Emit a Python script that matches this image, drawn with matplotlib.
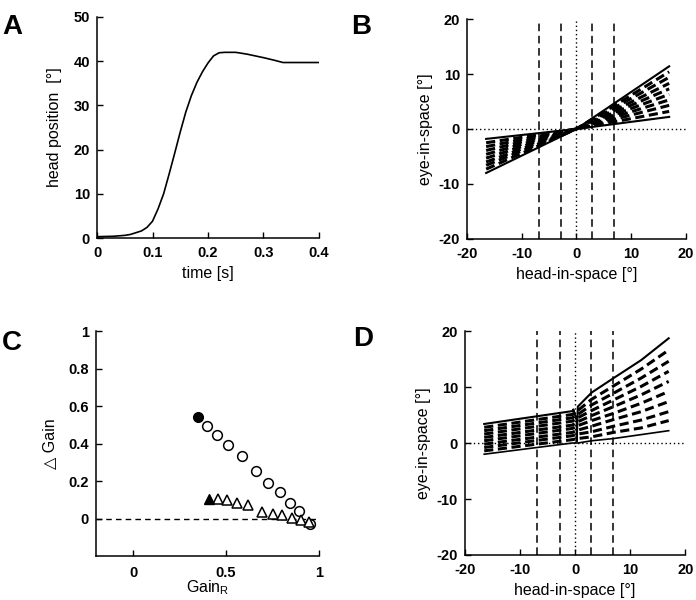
import matplotlib
matplotlib.use("Agg")
import matplotlib.pyplot as plt

plt.rcParams['font.family'] = ['Liberation Sans', 'DejaVu Sans']
plt.rcParams['axes.unicode_minus'] = False
plt.rcParams['font.size'] = 10

# ---- panel A: head position over time
t_s = [0, 0.03, 0.05, 0.06, 0.07, 0.08, 0.09, 0.1, 0.11, 0.12, 0.13, 0.14,
       0.15, 0.16, 0.17, 0.18, 0.19, 0.2, 0.21, 0.22, 0.23, 0.25, 0.27, 0.3,
       0.32, 0.335, 0.4]
head_pos = [0.3, 0.4, 0.6, 0.8, 1.2, 1.6, 2.4, 3.8, 6.6, 10.0, 14.5, 19.2,
            24.0, 28.5, 32.2, 35.2, 37.6, 39.6, 41.2, 41.9, 42.0, 42.0, 41.6,
            40.8, 40.2, 39.7, 39.7]

# ---- panel B: eye-in-space lines through the origin
b_x = [-16.5, 0, 17]
b_left = [-8.0, -7.3, -6.6, -6.0, -5.3, -4.6, -3.9, -3.2, -2.5, -1.8]
b_right = [11.4, 10.4, 9.4, 8.3, 7.3, 6.3, 5.3, 4.3, 3.2, 2.2]

# ---- panel C: delta gain vs gain R
circ_x = [0.396, 0.452, 0.511, 0.586, 0.661, 0.725, 0.789, 0.843, 0.896, 0.954]
circ_y = [0.496, 0.447, 0.394, 0.333, 0.254, 0.188, 0.141, 0.084, 0.039, -0.027]
circ_fill = (0.348, 0.544)
tri_x = [0.459, 0.507, 0.561, 0.62, 0.695, 0.754, 0.804, 0.857, 0.905, 0.95]
tri_y = [0.103, 0.098, 0.085, 0.07, 0.036, 0.024, 0.018, 0.004, -0.007, -0.017]
tri_fill = (0.41, 0.103)

# ---- panel D: eye-in-space, left and right segments
d_xl = [-16.5, -0.5]
d_xr = [0.5, 3, 7, 12, 17]
d_left = [[3.4, 5.7], [2.8, 5.1], [2.2, 4.5], [1.6, 3.9], [1.0, 3.2],
          [0.4, 2.6], [-0.2, 1.9], [-0.8, 1.3], [-1.4, 0.6], [-2.0, 0.0]]
d_right = [[6.5, 9.0, 11.6, 14.8, 18.7], [5.8, 7.8, 10.2, 13.2, 16.6],
           [5.1, 6.8, 8.9, 11.6, 14.6], [4.5, 5.8, 7.7, 10.1, 12.8],
           [3.8, 4.9, 6.5, 8.6, 11.0], [3.1, 4.0, 5.3, 7.1, 9.2],
           [2.3, 3.0, 4.2, 5.6, 7.4], [1.6, 2.0, 3.0, 4.1, 5.6],
           [0.8, 1.1, 1.9, 2.7, 4.0], [0.0, 0.4, 0.8, 1.5, 2.2]]

vlines_dash = [-6.9, -2.8, 2.9, 6.9]

fig = plt.figure(figsize=(6.96, 6.0), dpi=100)
axA = fig.add_axes([0.1394, 0.6033, 0.3189, 0.3684])
axB = fig.add_axes([0.671, 0.6017, 0.314, 0.3666])
axC = fig.add_axes([0.138, 0.0733, 0.320, 0.375])
axD = fig.add_axes([0.668, 0.075, 0.3165, 0.3733])


def style(ax):
    for s in ['top', 'right']:
        ax.spines[s].set_visible(False)
    for s in ['left', 'bottom']:
        ax.spines[s].set_linewidth(1.1)
    ax.tick_params(direction='in', length=4, width=1.0, labelsize=10.5)
    ax.tick_params(axis='y', pad=5)
    ax.tick_params(axis='x', pad=6)
    for lab in ax.get_xticklabels() + ax.get_yticklabels():
        lab.set_fontweight('bold')


# A
axA.plot(t_s, head_pos, color='black', lw=1.2)
axA.set_xlim(0, 0.4)
axA.set_ylim(0, 50)
axA.set_xticks([0, 0.1, 0.2, 0.3, 0.4])
axA.set_xticklabels(['0', '0.1', '0.2', '0.3', '0.4'])
axA.set_yticks([0, 10, 20, 30, 40, 50])
axA.set_xlabel('time [s]', fontsize=11.5)
axA.set_ylabel('head position  [°]', fontsize=11.5, labelpad=8)
style(axA)


def eye_axes(ax):
    ax.set_xlim(-20, 20)
    ax.set_ylim(-20, 20)
    ax.set_xticks([-20, -10, 0, 10, 20])
    ax.set_yticks([-20, -10, 0, 10, 20])
    for xv in vlines_dash:
        ax.axvline(xv, color='black', lw=1.1, ls=(0, (5, 3)))
    ax.axvline(0, color='black', lw=1.0, ls=(0, (1, 2)))
    ax.axhline(0, color='black', lw=1.0, ls=(0, (1, 2)))
    ax.set_xlabel('head-in-space [°]', fontsize=11.5)
    ax.set_ylabel('eye-in-space [°]', fontsize=11.5, labelpad=4)
    style(ax)


# B
eye_axes(axB)
n = len(b_left)
for i in range(n):
    ys = [b_left[i], 0, b_right[i]]
    if i == 0 or i == n - 1:
        axB.plot(b_x, ys, color='black', lw=1.5)
    else:
        axB.plot(b_x, ys, color='black', lw=2.2, ls=(0, (3, 1.5)))

# C
axC.axhline(0, color='black', lw=1.0, ls=(0, (4, 3)))
axC.plot(circ_x, circ_y, 'o', ms=7, mfc='white', mec='black', mew=1.1)
axC.plot([circ_fill[0]], [circ_fill[1]], 'o', ms=7, mfc='black', mec='black')
axC.plot(tri_x, tri_y, '^', ms=7.5, mfc='white', mec='black', mew=1.1)
axC.plot([tri_fill[0]], [tri_fill[1]], '^', ms=7.5, mfc='black', mec='black')
axC.set_xlim(-0.2, 1)
axC.set_ylim(-0.2, 1)
axC.set_xticks([0, 0.5, 1])
axC.set_xticklabels(['0', '0.5', '1'])
axC.set_yticks([0, 0.2, 0.4, 0.6, 0.8, 1])
axC.set_yticklabels(['0', '0.2', '0.4', '0.6', '0.8', '1'])
axC.set_xlabel('Gain$_{\\mathregular{R}}$', fontsize=11.5, labelpad=-1)
axC.set_ylabel('\u25b3 Gain', fontsize=11.5, labelpad=8)
style(axC)
axC.tick_params(axis='x', pad=7)

# D
eye_axes(axD)
n = len(d_left)
for i in range(n):
    xs = d_xl + d_xr
    ys = d_left[i] + d_right[i]
    if i == 0:
        xs = d_xl + [-0.3, 0.3, 0.3] + d_xr
        ys = d_left[i] + [6.0, 4.0, 0.3] + d_right[i]
        axD.plot(xs, ys, color='black', lw=1.5)
    elif i == n - 1:
        axD.plot(xs, ys, color='black', lw=1.2)
    else:
        axD.plot(xs, ys, color='black', lw=2.2, ls=(0, (3, 1.5)))

# panel letters
for lab, x, y in [('A', 0.003, 0.955), ('B', 0.505, 0.955),
                  ('C', 0.003, 0.428), ('D', 0.508, 0.435)]:
    fig.text(x, y, lab, fontsize=20, fontweight='bold', va='center', ha='left')

fig.savefig('out.png', dpi=100)
